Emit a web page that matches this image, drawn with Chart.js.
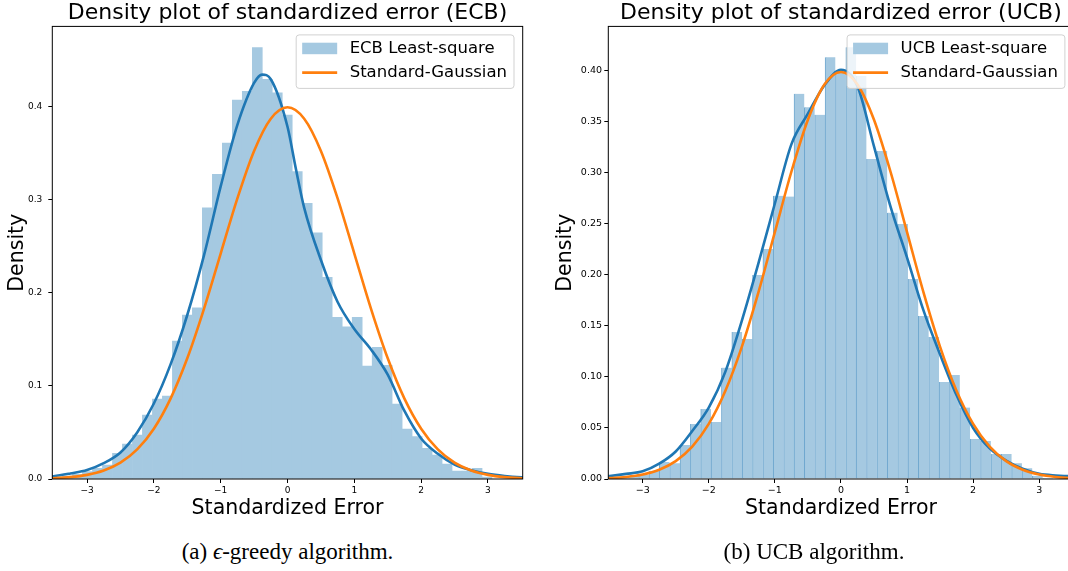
<!DOCTYPE html>
<html>
<head>
<meta charset="utf-8">
<script src="https://cdn.jsdelivr.net/npm/chart.js@4.4.1/dist/chart.umd.min.js"></script>
<style>
  html, body { margin: 0; padding: 0; background: #fff; }
  body { width: 1068px; height: 571px; overflow: hidden; position: relative; }
  canvas { position: absolute; top: 0; }
  #ecb { left: 0; }
  #ucb { left: 534px; }
  .caption { position: absolute; top: 540px; font-family: 'Liberation Serif', 'DejaVu Serif', serif; font-size: 23px; line-height: 23px; text-align: center; color: #000; white-space: nowrap; }
</style>
</head>
<body>
<canvas id="ecb" width="540" height="525"></canvas>
<canvas id="ucb" width="544" height="525"></canvas>
<div class="caption" style="left:0;width:575px">(a) <i>ϵ</i>-greedy algorithm.</div>
<div class="caption" style="left:564px;width:500px">(b) UCB algorithm.</div>
<script>
// tick labels
const xTicks = [-3, -2, -1, 0, 1, 2, 3];
const ecbYTicks = [0, 0.1, 0.2, 0.3, 0.4];
const ucbYTicks = [0, 0.05, 0.10, 0.15, 0.20, 0.25, 0.30, 0.35, 0.40];

// histogram of the e-greedy (ECB) errors
const ecbBinCenters = [-3.442, -3.293, -3.143, -2.994, -2.844, -2.695, -2.545, -2.396, -2.246, -2.097,
  -1.947, -1.798, -1.648, -1.499, -1.349, -1.200, -1.050, -0.901, -0.751, -0.602,
  -0.452, -0.303, -0.153, -0.004, 0.146, 0.295, 0.445, 0.594, 0.744, 0.893,
  1.043, 1.192, 1.342, 1.491, 1.641, 1.790, 1.940, 2.089, 2.239, 2.388,
  2.538, 2.687, 2.837, 2.986];
const ecbBinDensity = [0.002, 0.003, 0.005, 0.008, 0.0114, 0.015, 0.0275, 0.0376, 0.047, 0.0687,
  0.0858, 0.089, 0.148, 0.176, 0.1838, 0.291, 0.327, 0.3605, 0.4067, 0.416,
  0.463, 0.429, 0.4145, 0.3906, 0.3298, 0.2958, 0.2643, 0.2164, 0.1735, 0.1634,
  0.1735, 0.1212, 0.1413, 0.122, 0.0805, 0.0536, 0.0454, 0.033, 0.0258, 0.0161,
  0.0086, 0.0086, 0.0114, 0.002];

// kernel density line (ECB)
const ecbKdeX = [-3.6, -3.5, -3.25, -3.0, -2.75, -2.5, -2.25, -2.0, -1.75, -1.5, -1.25, -1.0, -0.75, -0.5, -0.38,
  -0.25, 0.0, 0.125, 0.25, 0.5, 0.75, 1.0, 1.25, 1.5, 1.75, 2.0, 2.25, 2.5, 2.75, 3.0, 3.25, 3.5, 3.6];
const ecbKdeY = [0.0025, 0.003, 0.006, 0.0097, 0.017, 0.0285, 0.050, 0.081, 0.123, 0.176, 0.240, 0.314, 0.380, 0.425, 0.434,
  0.429, 0.378, 0.333, 0.291, 0.235, 0.190, 0.161, 0.139, 0.112, 0.073, 0.0435, 0.027, 0.0155, 0.0095, 0.0055, 0.0032, 0.0018, 0.0015];

// histogram of the UCB errors
const ucbBinCenters = [-3.455, -3.298, -3.141, -2.984, -2.828, -2.671, -2.514, -2.357, -2.200, -2.044,
  -1.887, -1.730, -1.573, -1.416, -1.260, -1.103, -0.946, -0.789, -0.632, -0.476,
  -0.319, -0.162, -0.005, 0.152, 0.308, 0.465, 0.622, 0.779, 0.936, 1.092,
  1.249, 1.406, 1.563, 1.720, 1.876, 2.033, 2.190, 2.347, 2.504, 2.660,
  2.817, 2.974, 3.131];
const ucbBinDensity = [0.001, 0.002, 0.003, 0.004, 0.008, 0.0167, 0.0155, 0.0333, 0.0539, 0.0686,
  0.0559, 0.1091, 0.1441, 0.1373, 0.200, 0.2255, 0.2775, 0.2768, 0.3775, 0.3644,
  0.3569, 0.4134, 0.398, 0.4232, 0.395, 0.3137, 0.3216, 0.261, 0.250, 0.196,
  0.1598, 0.1392, 0.0951, 0.102, 0.070, 0.0392, 0.0373, 0.0245, 0.0245, 0.0154,
  0.0105, 0.0033, 0.001];

// kernel density line (UCB)
const ucbKdeX = [-3.6, -3.5, -3.25, -3.0, -2.75, -2.5, -2.25, -2.0, -1.75, -1.5, -1.25, -1.0, -0.75, -0.5, -0.25,
  0.0, 0.25, 0.5, 0.75, 1.0, 1.25, 1.5, 1.75, 2.0, 2.25, 2.5, 2.75, 3.0, 3.25, 3.5, 3.6];
const ucbKdeY = [0.0025, 0.003, 0.005, 0.0075, 0.015, 0.027, 0.047, 0.070, 0.105, 0.155, 0.211, 0.270, 0.328, 0.358, 0.386,
  0.401, 0.385, 0.326, 0.267, 0.217, 0.165, 0.122, 0.082, 0.050, 0.030, 0.018, 0.010, 0.005, 0.0035, 0.003, 0.003];

// standard gaussian line, same in both panels
const gaussX = [-3.6, -3.5, -3.25, -3.0, -2.75, -2.5, -2.25, -2.0, -1.75, -1.5, -1.25, -1.0, -0.75, -0.5, -0.25,
  0.0, 0.25, 0.5, 0.75, 1.0, 1.25, 1.5, 1.75, 2.0, 2.25, 2.5, 2.75, 3.0, 3.25, 3.5, 3.6];
const gaussY = [0.00061, 0.00087, 0.00203, 0.00443, 0.00909, 0.01753, 0.03174, 0.05399, 0.08628, 0.12952, 0.18265, 0.24197, 0.30114, 0.35207, 0.38667,
  0.39894, 0.38667, 0.35207, 0.30114, 0.24197, 0.18265, 0.12952, 0.08628, 0.05399, 0.03174, 0.01753, 0.00909, 0.00443, 0.00203, 0.00087, 0.00061];

const BLUE = '#1f77b4';
const ORANGE = '#ff7f0e';
const BAR = 'rgb(165,201,225)';

Chart.defaults.font.family = "'DejaVu Sans', sans-serif";
Chart.defaults.color = '#000';

function points(xs, ys) {
    return xs.map(function (x, i) { return { x: x, y: ys[i] }; });
}

// frame on all four sides + matplotlib style legend inside the axes
const framePlugin = {
    id: 'frame',
    afterDraw: function (chart, args, opts) {
        const ctx = chart.ctx;
        const a = chart.chartArea;
        ctx.save();
        ctx.strokeStyle = '#000';
        ctx.lineWidth = 1;
        ctx.strokeRect(a.left, a.top, a.right - a.left, a.bottom - a.top);

        ctx.font = '16.5px "DejaVu Sans"';
        const textW = Math.max.apply(null, opts.labels.map(function (t) { return ctx.measureText(t).width; }));
        const w = 53.5 + textW + 7;
        const h = 53.5;
        const x = a.right - 8.7 - w;
        const y = a.top + 8.5;
        ctx.beginPath();
        ctx.roundRect(x, y, w, h, 3);
        ctx.fillStyle = 'rgba(255,255,255,0.8)';
        ctx.fill();
        ctx.strokeStyle = 'rgba(204,204,204,0.9)';
        ctx.lineWidth = 1;
        ctx.stroke();

        ctx.fillStyle = BAR;
        ctx.fillRect(x + 6, y + 7.8, 35, 11.5);
        ctx.beginPath();
        ctx.moveTo(x + 6, y + 37.7);
        ctx.lineTo(x + 41, y + 37.7);
        ctx.strokeStyle = ORANGE;
        ctx.lineWidth = 2.6;
        ctx.stroke();

        ctx.fillStyle = '#000';
        ctx.textBaseline = 'middle';
        ctx.textAlign = 'left';
        ctx.fillText(opts.labels[0], x + 53.5, y + 14.2);
        ctx.fillText(opts.labels[1], x + 53.5, y + 37.7);
        ctx.restore();
    }
};

function makeChart(id, cfg) {
    const barSet = {
        type: 'bar',
        data: points(cfg.binX, cfg.binY),
        backgroundColor: BAR,
        borderColor: cfg.barEdge || BAR,
        borderWidth: cfg.barEdge ? { left: 1, top: 0, right: 0, bottom: 0 } : 0,
        barPercentage: 1,
        categoryPercentage: 1,
        order: 3
    };
    const kdeSet = {
        type: 'line',
        data: points(cfg.kdeX, cfg.kdeY),
        borderColor: BLUE,
        borderWidth: 2.6,
        pointRadius: 0,
        cubicInterpolationMode: 'monotone',
        fill: false,
        order: 2
    };
    const gaussSet = {
        type: 'line',
        data: points(gaussX, gaussY),
        borderColor: ORANGE,
        borderWidth: 2.6,
        pointRadius: 0,
        cubicInterpolationMode: 'monotone',
        fill: false,
        order: 1
    };

    return new Chart(document.getElementById(id), {
        type: 'bar',
        data: { datasets: [gaussSet, kdeSet, barSet] },
        options: {
            responsive: false,
            animation: false,
            events: [],
            layout: { padding: { left: 0, top: 0, right: cfg.padRight, bottom: 0 } },
            plugins: {
                legend: { display: false },
                tooltip: { enabled: false },
                title: {
                    display: true,
                    text: cfg.title,
                    fullSize: false,
                    font: { size: 22, weight: 'normal' },
                    padding: { top: 0, bottom: 0 },
                    color: '#000'
                },
                frame: { labels: cfg.legend }
            },
            scales: {
                x: {
                    type: 'linear',
                    min: -3.52,
                    max: 3.52,
                    offset: false,
                    afterBuildTicks: function (s) { s.ticks = xTicks.map(function (v) { return { value: v }; }); },
                    afterFit: function (s) { s.height = 46; },
                    ticks: {
                        font: { size: cfg.tickSize },
                        padding: 2,
                        maxRotation: 0,
                        callback: function (v) { return v < 0 ? '\u2212' + Math.abs(v) : String(v); }
                    },
                    grid: { drawOnChartArea: false, offset: false, tickLength: 4, color: '#000' },
                    border: { display: false },
                    title: {
                        display: true,
                        text: 'Standardized Error',
                        font: { size: 20.5 },
                        padding: { top: 0, bottom: 4.3 }
                    }
                },
                y: {
                    type: 'linear',
                    min: 0,
                    max: cfg.yMax,
                    afterBuildTicks: function (s) { s.ticks = cfg.yTicks.map(function (v) { return { value: v }; }); },
                    afterFit: function (s) { s.width = cfg.yWidth; },
                    ticks: {
                        font: { size: cfg.tickSize },
                        padding: cfg.yTickPad,
                        callback: function (v) { return v.toFixed(cfg.digits); }
                    },
                    grid: { drawOnChartArea: false, tickLength: 4, color: '#000' },
                    border: { display: false },
                    title: {
                        display: true,
                        text: 'Density',
                        font: { size: 20.5 },
                        padding: { top: cfg.yTitlePad, bottom: 0 }
                    }
                }
            }
        },
        plugins: [framePlugin]
    });
}

makeChart('ecb', {
    title: 'Density plot of standardized error (ECB)',
    legend: ['ECB Least-square', 'Standard-Gaussian'],
    binX: ecbBinCenters, binY: ecbBinDensity,
    kdeX: ecbKdeX, kdeY: ecbKdeY,
    yMax: 0.4857, yTicks: ecbYTicks, digits: 1,
    yWidth: 52.3, yTickPad: 6, yTitlePad: 5.2,
    tickSize: 9, padRight: 17.3
});

makeChart('ucb', {
    title: 'Density plot of standardized error (UCB)',
    legend: ['UCB Least-square', 'Standard-Gaussian'],
    binX: ucbBinCenters, binY: ucbBinDensity,
    kdeX: ucbKdeX, kdeY: ucbKdeY,
    barEdge: 'rgb(112,168,207)',
    yMax: 0.4436, yTicks: ucbYTicks, digits: 2,
    yWidth: 74.3, yTickPad: 2.3, yTitlePad: 19.7,
    tickSize: 9.5, padRight: 4.4
});
</script>
</body>
</html>
